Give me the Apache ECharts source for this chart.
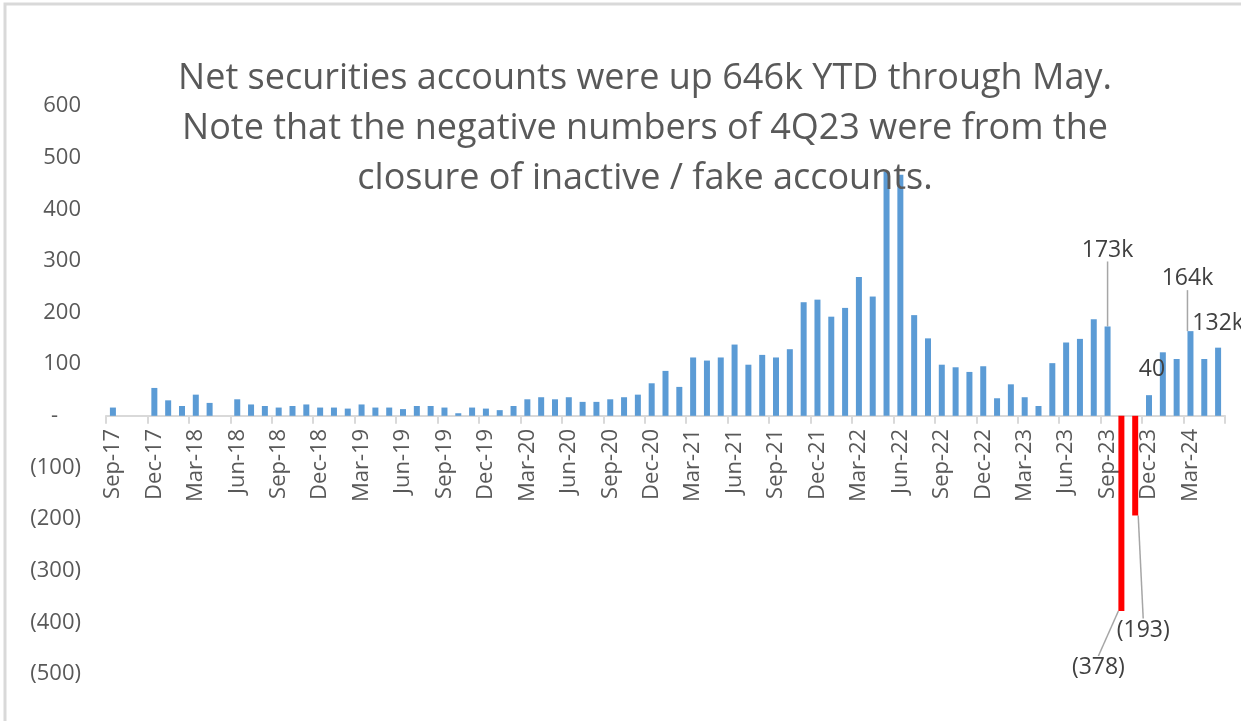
<!DOCTYPE html>
<html>
<head>
<meta charset="utf-8">
<script src="https://cdn.jsdelivr.net/npm/echarts@6/dist/echarts.min.js"></script>
<style>
html,body{margin:0;padding:0;background:#fff;}
#accountsDiv{width:1241px;height:721px;}
</style>
</head>
<body>
<div id="accountsDiv"></div>
<script>
// months on the category axis
var months = [
	'Sep-17','Oct-17','Nov-17','Dec-17','Jan-18','Feb-18','Mar-18','Apr-18','May-18',
	'Jun-18','Jul-18','Aug-18','Sep-18','Oct-18','Nov-18','Dec-18','Jan-19','Feb-19',
	'Mar-19','Apr-19','May-19','Jun-19','Jul-19','Aug-19','Sep-19','Oct-19','Nov-19',
	'Dec-19','Jan-20','Feb-20','Mar-20','Apr-20','May-20','Jun-20','Jul-20','Aug-20',
	'Sep-20','Oct-20','Nov-20','Dec-20','Jan-21','Feb-21','Mar-21','Apr-21','May-21',
	'Jun-21','Jul-21','Aug-21','Sep-21','Oct-21','Nov-21','Dec-21','Jan-22','Feb-22',
	'Mar-22','Apr-22','May-22','Jun-22','Jul-22','Aug-22','Sep-22','Oct-22','Nov-22',
	'Dec-22','Jan-23','Feb-23','Mar-23','Apr-23','May-23','Jun-23','Jul-23','Aug-23',
	'Sep-23','Oct-23','Nov-23','Dec-23','Jan-24','Feb-24','Mar-24','Apr-24','May-24'
];
// net new securities accounts (k)
var netAccounts = [
	16, null, null, 54, 30, 19, 41, 25, null,
	32, 22, 19, 16, 19, 22, 16, 16, 14,
	22, 16, 16, 13, 19, 19, 16, 5, 16,
	14, 11, 19, 32, 36, 32, 36, 27, 27,
	32, 36, 41, 63, 87, 56, 113, 107, 113,
	138, 99, 118, 113, 129, 220, 225, 192, 209,
	269, 231, 473, 467, 195, 150, 99, 94, 85,
	96, 34, 61, 36, 19, 102, 142, 149, 187,
	173, -378, -193, 40, 123, 110, 164, 110, 132
];
// callout labels
var calloutText = {
	'Sep-23': '173k',
	'Oct-23': '(378)',
	'Nov-23': '(193)',
	'Dec-23': '40',
	'Mar-24': '164k',
	'May-24': '132k'
};
var titleLines = [
	'Net securities accounts were up 646k YTD through May.',
	'Note that the negative numbers of 4Q23 were from the',
	'closure of inactive / fake accounts.'
];

// how far each callout is pulled away from its bar (px)
var calloutShift = {
	'Sep-23': [0, -60],
	'Oct-23': [-23, 40],
	'Nov-23': [8, 98],
	'Dec-23': [3, -9],
	'Mar-24': [-3, -36],
	'May-24': [0, -8]
};
// callouts that keep a guide line back to their bar
var calloutGuide = ['Sep-23', 'Oct-23', 'Nov-23', 'Mar-24'];

var FONT = 'Open Sans';
var Y_MIN = -500, Y_MAX = 600;
var GRID = {left: 106, right: 16, top: 106, bottom: 47};

function buildData(){
	var dataArray = [];
	for (var i = 0; i < netAccounts.length; i++) {
		var v = netAccounts[i];
		var item = {
			value: v,
			itemStyle: {color: v < 0 ? '#FF0000' : '#5B9BD5'}
		};
		var txt = calloutText[months[i]];
		if (txt) {
			item.label = {
				show: true,
				position: v < 0 ? 'bottom' : 'top',
				distance: 5,
				formatter: txt,
				fontFamily: FONT,
				fontSize: 23,
				color: '#404040'
			};
			item.labelLine = {
				show: calloutGuide.indexOf(months[i]) >= 0,
				lineStyle: {color: '#A6A6A6', width: 1.5}
			};
		}
		dataArray.push(item);
	}
	return dataArray;
}

function yLabel(v){
	if (v == 0) return '-    ';
	if (v < 0) return '(' + (-v) + ')';
	return v + '';
}

// the category axis sits on the zero line, move it up from the grid bottom
function zeroOffset(){
	var h = 721 - GRID.top - GRID.bottom;
	return -h * (0 - Y_MIN) / (Y_MAX - Y_MIN);
}

var myChart = echarts.init(document.getElementById('accountsDiv'));
option = {
	backgroundColor: '#fff',
	animation: false,
	title: {
		text: titleLines.join('\n'),
		left: 640,
		top: 49,
		textAlign: 'center',
		textStyle: {
			fontFamily: FONT,
			fontSize: 36,
			fontWeight: 'normal',
			color: '#595959',
			lineHeight: 50
		}
	},
	graphic: [{
		type: 'rect',
		silent: true,
		shape: {x: 5, y: 4, width: 1260, height: 740},
		style: {fill: 'none', stroke: '#D9D9D9', lineWidth: 3}
	}],
	grid: {
		left: GRID.left,
		right: GRID.right,
		top: GRID.top,
		bottom: GRID.bottom,
		containLabel: false,
		outerBoundsMode: 'none'
	},
	xAxis: {
		type: 'category',
		data: months,
		position: 'bottom',
		offset: zeroOffset(),
		axisLine: {onZero: false, lineStyle: {color: '#D9D9D9', width: 2}},
		axisTick: {show: true, interval: 2, length: 8, lineStyle: {color: '#D9D9D9', width: 2}},
		axisLabel: {
			interval: 2,
			rotate: 90,
			margin: 13,
			fontFamily: FONT,
			fontSize: 22,
			color: '#595959'
		}
	},
	yAxis: {
		type: 'value',
		min: Y_MIN,
		max: Y_MAX,
		interval: 100,
		splitLine: {show: false},
		axisLine: {show: false},
		axisTick: {show: false},
		axisLabel: {
			margin: 25,
			fontFamily: FONT,
			fontSize: 22,
			color: '#595959',
			formatter: yLabel
		}
	},
	series: [{
		name: 'Net securities accounts',
		type: 'bar',
		barWidth: 6,
		data: buildData(),
		labelLayout: function(params){
			var s = calloutShift[months[params.dataIndex]];
			if (!s) return {};
			return {dx: s[0], dy: s[1]};
		}
	}]
};
myChart.setOption(option);
</script>
</body>
</html>
